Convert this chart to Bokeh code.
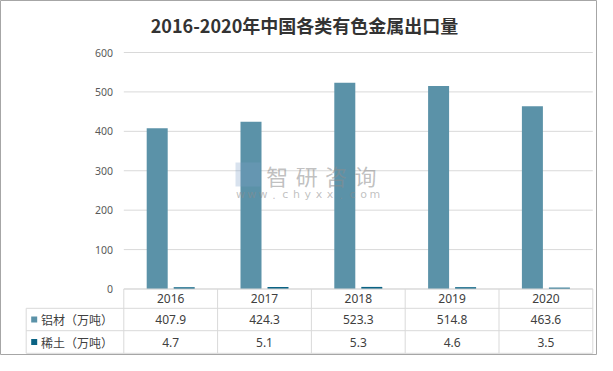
from bokeh.plotting import figure
from bokeh.models import Range1d
from bokeh.core.properties import value
from bokeh.embed import file_html
from bokeh.resources import INLINE

# ---------------- data ----------------
title_text = "2016-2020年中国各类有色金属出口量"
years = ["2016", "2017", "2018", "2019", "2020"]
aluminium = [407.9, 424.3, 523.3, 514.8, 463.6]
rare_earth = [4.7, 5.1, 5.3, 4.6, 3.5]
series_names = ["铝材（万吨）", "稀土（万吨）"]
y_ticks = [0, 100, 200, 300, 400, 500, 600]
y_tick_labels = ["0", "100", "200", "300", "400", "500", "600"]
watermark_name = "智研咨询"
watermark_url = "www.chyxx.com"

# ---------------- layout (figure pixels) ----------------
W, H = 597, 355
PX_X = 93.8             # px per category column
X0_PX = 123.3           # left edge of the category columns
Y0_PX = 288.5           # value 0 baseline (px from top)
PX_Y = 236.5 / 600.0    # px per value unit

def xd(px):
    return (px - X0_PX) / PX_X

def yd(py):
    return (Y0_PX - py) / PX_Y

n = len(years)
p = figure(width=W, height=H, x_range=Range1d(xd(0), xd(W)), y_range=Range1d(yd(H), yd(0)),
           x_axis_type=None, y_axis_type=None, min_border=0, toolbar_location=None,
           output_backend="svg", title=None)
p.grid.visible = False
p.outline_line_color = "#a6a6a6"
p.outline_line_width = 1
p.background_fill_color = "white"
p.border_fill_color = "white"

GRID = "#d9d9d9"
C1 = "#5b92a8"
C2 = "#0b6384"
TXT = "#404040"

# gridlines
p.segment(x0=[0] * len(y_ticks), x1=[n] * len(y_ticks), y0=y_ticks, y1=y_ticks,
          line_color=GRID, line_width=1)

# y tick labels
p.text(x=[xd(112.5)] * len(y_ticks), y=y_ticks, text=y_tick_labels, text_align="right",
       text_baseline="middle", text_font=value("Noto Sans"), text_font_size="10.5px",
       text_color="#595959")

# bars
centers = [i + 0.5 for i in range(n)]
bw = 21 / PX_X
off = 13.5 / PX_X
p.vbar(x=[c - off for c in centers], top=aluminium, bottom=0, width=bw,
       fill_color=C1, line_color=None)
p.vbar(x=[c + off for c in centers], top=rare_earth, bottom=0, width=bw,
       fill_color=C2, line_color=None)

# watermark (letter-spaced)
p.quad(left=[xd(235)], right=[xd(260)], top=[yd(162)], bottom=[yd(186)],
       fill_color="#7f9fc8", fill_alpha=0.3, line_color=None)
name_chars = list(watermark_name)
p.text(x=[xd(276.8 + 29.4 * i) for i in range(len(name_chars))], y=[yd(174)] * len(name_chars),
       text=name_chars, text_align="center", text_baseline="middle",
       text_font=value("Noto Sans CJK SC"), text_font_size="22px", text_color="#8c8c8c",
       text_alpha=0.55)
url_chars = list(watermark_url)
p.text(x=[xd(240 + 11.2 * i) for i in range(len(url_chars))], y=[yd(194)] * len(url_chars),
       text=url_chars, text_align="center", text_baseline="middle",
       text_font=value("DejaVu Sans"), text_font_size="11px",
       text_color="#8c8c8c", text_alpha=0.55)

# table
row_px = [0.0, 19.3, 41.7, 64.3]   # offsets below baseline
label_left = xd(25.7)
ys = [yd(Y0_PX + r) for r in row_px]
p.segment(x0=[0, label_left, label_left, label_left], x1=[n] * 4, y0=ys, y1=ys,
          line_color=GRID, line_width=1)
p.segment(x0=list(range(n + 1)), x1=list(range(n + 1)), y0=[ys[0]] * (n + 1), y1=[ys[3]] * (n + 1),
          line_color=GRID, line_width=1)
p.segment(x0=[label_left], x1=[label_left], y0=[ys[1]], y1=[ys[3]], line_color=GRID, line_width=1)

yc = [(ys[i] + ys[i + 1]) / 2 for i in range(3)]
p.text(x=centers, y=[yc[0]] * n, text=years, text_align="center", text_baseline="middle",
       text_font=value("Noto Sans"), text_font_size="12px", text_color=TXT)
p.text(x=centers, y=[yc[1]] * n, text=[f"{v:.1f}" for v in aluminium], text_align="center",
       text_baseline="middle", text_font=value("Noto Sans"), text_font_size="12px", text_color=TXT)
p.text(x=centers, y=[yc[2]] * n, text=[f"{v:.1f}" for v in rare_earth], text_align="center",
       text_baseline="middle", text_font=value("Noto Sans"), text_font_size="12px", text_color=TXT)
p.scatter(x=[xd(33.7)] * 2, y=[yc[1], yc[2]], marker="square", size=6,
          fill_color=[C1, C2], line_color=None)
p.text(x=[xd(40.5)] * 2, y=[yc[1], yc[2]], text=series_names, text_align="left",
       text_baseline="middle", text_font=value("Noto Sans CJK SC"), text_font_size="12px",
       text_color=TXT)

# title
p.text(x=[xd(304)], y=[yd(24.5)], text=[title_text], text_align="center", text_baseline="middle",
       text_font=value("Noto Sans CJK SC"), text_font_size="18px", text_font_style="bold",
       text_color="#333333")

open("out.html", "w").write(file_html(p, INLINE))
